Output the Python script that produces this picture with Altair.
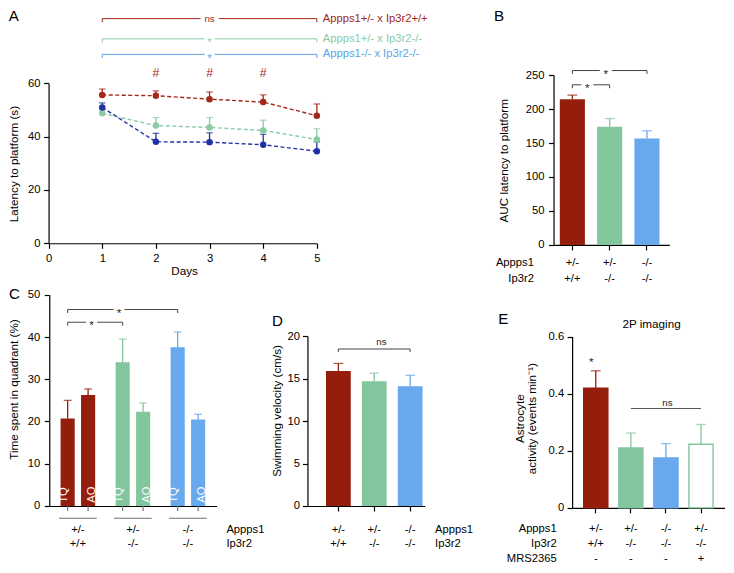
import altair as alt
import pandas as pd

# ---------------- values ----------------
days = [1, 2, 3, 4, 5]
a_series = ["Appps1+/- x Ip3r2+/+", "Appps1+/- x Ip3r2-/-", "Appps1-/- x Ip3r2-/-"]
a_stats = ["ns", "*", "*"]
a_levels = [84.2, 76.6, 70.8]
latency_red = [55.6, 55.3, 54.0, 52.9, 47.8]
latency_red_top = [57.8, 57.1, 56.7, 55.6, 52.2]
latency_green = [48.7, 44.1, 43.4, 42.3, 38.9]
latency_green_top = [50.0, 47.1, 47.1, 46.1, 42.9]
latency_blue = [50.9, 38.0, 37.9, 36.9, 34.5]
latency_blue_top = [52.6, 41.2, 41.4, 40.8, 38.0]
hash_days = [2, 3, 4]
hash_level = 63.9

appps1 = ["+/-", "+/-", "-/-"]
ip3r2 = ["+/+", "-/-", "-/-"]

auc_mean = [214.5, 174.0, 156.5]
auc_top = [220.5, 186.0, 168.0]
b_brackets = [(0, 2, 256.7), (0, 1, 235.7)]

quadrants = ["TQ", "AO"]
tq_mean = [20.7, 34.0, 37.6]
tq_top = [25.0, 39.5, 41.2]
ao_mean = [26.3, 22.3, 20.5]
ao_top = [27.7, 24.4, 21.7]
c_brackets = [(0, 2, 46.5), (0, 1, 43.5)]

velocity_mean = [15.9, 14.7, 14.1]
velocity_top = [16.8, 15.65, 15.4]
d_bracket = (0, 2, 18.5)
d_ns_level = 19.35

e_appps1 = ["+/-", "+/-", "-/-", "+/-"]
e_ip3r2 = ["+/+", "-/-", "-/-", "-/-"]
e_mrs = ["-", "-", "-", "+"]
activity_mean = [0.419, 0.210, 0.175, 0.223]
activity_top = [0.480, 0.262, 0.225, 0.292]
e_ns = (1, 3, 0.348)
e_ns_text = 0.367
e_star = 0.522

# ---------------- styling / layout ----------------
RED_BAR, GREEN_BAR, BLUE_BAR = "#941D0C", "#83C59D", "#68A8EC"
RED_LINE, GREEN_LINE, BLUE_LINE = "#A3281A", "#8ACBA5", "#2032A6"
RED_TXT, GREEN_TXT, BLUE_TXT = "#A3281A", "#8ACBA5", "#5CA3E6"
BR_COL = "#444444"
FONT = "Liberation Sans"

SX, SY, SF = 0.978, 0.972, 0.975


def X(r):
    return (r - 0.5) * SX


def Y(r):
    return (r - 1.0) * SY


W = int(round(X(734)))
H = int(round(Y(573)))
FS_TICK = 11.5 * SF
FS_TITLE = 12 * SF
FS_LETTER = 15.5 * SF
FS_NOTE = 11.5 * SF
FS_NS = 10 * SF
FS_STAR = 12 * SF
AXW = 1.2
TICK = 5

AX = dict(grid=False, domainColor="black", domainWidth=AXW, tickColor="black", tickWidth=AXW,
          labelFont=FONT, labelFontSize=FS_TICK, labelColor="black", labelOverlap=False,
          labelFlush=False, titleFont=FONT, titleFontSize=FS_TITLE, titleFontWeight="normal",
          titleColor="black")


def y_axis(axis_x, values, title, title_x, title_y, fmt="d", line_h=None, pad=3.5):
    kw = dict(AX, orient="left", offset=-X(axis_x), values=values, format=fmt, tickSize=TICK,
              labelPadding=pad, title=title, titleAngle=270, titleAlign="center",
              titleBaseline="middle", titleX=X(title_x) - X(axis_x), titleY=Y(title_y))
    if line_h:
        kw["titleLineHeight"] = line_h
    return alt.Axis(**kw)


def x_band_axis(axis_y, row1_y, row_gap, head, head_x, head_align, ticks=True):
    top = (row1_y - axis_y) * SY - 0.45 * FS_TICK
    tick = TICK if ticks else 0
    return alt.Axis(**dict(AX, orient="bottom", offset=Y(axis_y) - H, ticks=ticks, tickSize=tick,
                           labelExpr="split(datum.label, '|')", labelAngle=0, labelBaseline="top",
                           labelPadding=top - tick, labelLineHeight=row_gap * SY,
                           title=head, titleX=X(head_x), titleY=top, titleAlign=head_align,
                           titleBaseline="top", titleAngle=0, titleLineHeight=row_gap * SY,
                           titleFontSize=FS_TICK))


def note(df, enc, size, color="#222222", dx=0.0, dy=0.0, halo=0):
    layers = []
    if halo:
        henc = {k: v for k, v in enc.items() if k != "color"}
        layers.append(alt.Chart(df).mark_text(font=FONT, fontSize=size, dx=dx, dy=dy, align="center",
                                              baseline="middle", color="white", stroke="white",
                                              strokeWidth=halo, strokeJoin="round").encode(**henc))
    layers.append(alt.Chart(df).mark_text(font=FONT, fontSize=size, dx=dx, dy=dy, align="center",
                                          baseline="middle", color=color).encode(**enc))
    return layers


def bar_layers(df, xenc, xenc0, yfield, ys, yaxis, col, cap, extra=None):
    extra = extra or {}
    return [
        alt.Chart(df).mark_bar().encode(x=xenc, y=alt.Y(f"{yfield}:Q", scale=ys, axis=yaxis), color=col, **extra),
        alt.Chart(df).mark_rule(strokeWidth=1.3).encode(x=xenc0, y=alt.Y(f"{yfield}:Q", scale=ys, axis=None),
                                                        y2="top:Q", color=col, **extra),
        alt.Chart(df).mark_tick(orient="horizontal", size=cap, thickness=1.3).encode(
            x=xenc0, y=alt.Y("top:Q", scale=ys, axis=None), color=col, **extra),
    ]


BAR_COLORS = [RED_BAR, GREEN_BAR, BLUE_BAR]
keys3 = [f"{a}|{b}" for a, b in zip(appps1, ip3r2)]

# ---------------- panel A ----------------
a_rows = []
for s, m, t in [(a_series[1], latency_green, latency_green_top),
                (a_series[2], latency_blue, latency_blue_top),
                (a_series[0], latency_red, latency_red_top)]:
    for d, mv, tv in zip(days, m, t):
        a_rows.append({"series": s, "day": d, "latency": mv, "top": tv})
a_df = pd.DataFrame(a_rows)

a_xs = alt.Scale(domain=[0, 5], range=[X(42), X(316.3)], nice=False, zero=False)
a_ys = alt.Scale(domain=[0, 60], range=[Y(242), Y(77.3)], nice=False, zero=False)
a_ppu = (Y(242) - Y(77.3)) / 60
a_dpu = (X(316.3) - X(42)) / 5
a_line_col = alt.Scale(domain=a_series, range=[RED_LINE, GREEN_LINE, BLUE_LINE])
a_txt_col = alt.Scale(domain=a_series, range=[RED_TXT, GREEN_TXT, BLUE_TXT])

a_xaxis = alt.Axis(**dict(AX, orient="bottom", offset=Y(242) - H, values=[0, 1, 2, 3, 4, 5], format="d",
                          tickSize=TICK, labelPadding=(257 - 242) * SY - 0.45 * FS_TICK - TICK,
                          title="Days", titleX=X(180.5), titleY=(270 - 242) * SY - 0.45 * FS_TITLE,
                          titleAlign="center", titleBaseline="top", titleAngle=0))
a_yaxis = y_axis(42, [0, 20, 40, 60], "Latency to platform (s)", 6, 160)

ax0 = alt.X("day:Q", scale=a_xs, axis=None)
a_lc = alt.Color("series:N", scale=a_line_col, legend=None)
a_tc = alt.Color("series:N", scale=a_txt_col, legend=None)
a_layers = [
    alt.Chart(a_df).mark_line(strokeDash=[4, 2.5], strokeWidth=1.4).encode(
        x=alt.X("day:Q", scale=a_xs, axis=a_xaxis), y=alt.Y("latency:Q", scale=a_ys, axis=a_yaxis), color=a_lc),
    alt.Chart(a_df).mark_rule(strokeWidth=1.3).encode(
        x=ax0, y=alt.Y("latency:Q", scale=a_ys, axis=None), y2="top:Q", color=a_lc),
    alt.Chart(a_df).mark_tick(orient="horizontal", size=6.5, thickness=1.3).encode(
        x=ax0, y=alt.Y("top:Q", scale=a_ys, axis=None), color=a_lc),
    alt.Chart(a_df).mark_point(filled=True, size=42, opacity=1).encode(
        x=ax0, y=alt.Y("latency:Q", scale=a_ys, axis=None), color=a_lc),
]
a_br = pd.DataFrame({"series": a_series, "stat": a_stats, "level": a_levels})
a_br["start"] = min(days)
a_br["end"] = max(days)
a_br["mid"] = (min(days) + max(days)) / 2
a_br["lab"] = max(days) + 6 * SX / a_dpu
a_br["low"] = a_br["level"] - 3.7 * SY / a_ppu
a_ends = pd.concat([a_br.assign(day=min(days)), a_br.assign(day=max(days))])
a_layers += [
    alt.Chart(a_br).mark_rule(strokeWidth=1).encode(
        x=alt.X("start:Q", scale=a_xs, axis=None), x2="end:Q", y=alt.Y("level:Q", scale=a_ys, axis=None), color=a_tc),
    alt.Chart(a_ends).mark_rule(strokeWidth=1).encode(
        x=ax0, y=alt.Y("level:Q", scale=a_ys, axis=None), y2="low:Q", color=a_tc),
    alt.Chart(a_br).mark_text(font=FONT, fontSize=FS_NOTE, align="left", baseline="middle").encode(
        x=alt.X("lab:Q", scale=a_xs, axis=None), y=alt.Y("level:Q", scale=a_ys, axis=None), text="series:N", color=a_tc),
]
a_ns = a_br[a_br["stat"] == "ns"]
a_st = a_br[a_br["stat"] == "*"]
a_enc = dict(x=alt.X("mid:Q", scale=a_xs, axis=None), y=alt.Y("level:Q", scale=a_ys, axis=None),
             text="stat:N", color=a_tc)
a_layers += note(a_ns, a_enc, FS_NS, halo=9)
a_layers += note(a_st, a_enc, FS_STAR, dy=0.275 * FS_STAR, halo=6)
a_hash = pd.DataFrame({"day": hash_days, "level": [hash_level] * len(hash_days), "sym": ["#"] * len(hash_days)})
a_layers.append(alt.Chart(a_hash).mark_text(font=FONT, fontSize=12.5 * SF, color=RED_TXT, baseline="middle").encode(
    x=ax0, y=alt.Y("level:Q", scale=a_ys, axis=None), text="sym:N"))

# ---------------- panel B ----------------
b_df = pd.DataFrame({"geno": keys3, "auc": auc_mean, "top": auc_top})
b_x0, b_x1 = X(558.3), X(676.7)
B_PI, B_PO, B_AL = 0.327, 0.216, 0.39
b_step = (b_x1 - b_x0) / (len(keys3) - B_PI + 2 * B_PO)
b_xs = alt.Scale(domain=keys3, range=[b_x0, b_x1], paddingInner=B_PI, paddingOuter=B_PO, align=B_AL)
b_ys = alt.Scale(domain=[0, 250], range=[Y(243.7), Y(69)], nice=False, zero=False)
b_ppu = (Y(243.7) - Y(69)) / 250
b_col = alt.Color("geno:N", scale=alt.Scale(domain=keys3, range=BAR_COLORS), legend=None)
b_xaxis = x_band_axis(243.7, 261, 16.3, ["Appps1", "Ip3r2"], 537.7, "right")
b_yaxis = y_axis(558.3, [0, 50, 100, 150, 200, 250], "AUC latency to platform", 506.7, 156.7, pad=4.5)
bx0 = alt.X("geno:N", scale=b_xs, axis=None)
b_layers = bar_layers(b_df, alt.X("geno:N", scale=b_xs, axis=b_xaxis), bx0, "auc", b_ys, b_yaxis, b_col, 10 * SX)
b_br = pd.DataFrame({"from": [keys3[i] for i, _, _ in b_brackets], "to": [keys3[j] for _, j, _ in b_brackets],
                     "level": [lv for _, _, lv in b_brackets]})
b_br["low"] = b_br["level"] - 3.5 * SY / b_ppu
b_ends = pd.concat([b_br.assign(geno=b_br["from"]), b_br.assign(geno=b_br["to"])])
b_layers += [
    alt.Chart(b_br).mark_rule(color=BR_COL, strokeWidth=1).encode(
        x=alt.X("from:N", scale=b_xs, axis=None), x2="to:N", y=alt.Y("level:Q", scale=b_ys, axis=None)),
    alt.Chart(b_ends).mark_rule(color=BR_COL, strokeWidth=1).encode(
        x=bx0, y=alt.Y("level:Q", scale=b_ys, axis=None), y2="low:Q"),
]
for i, j, lv in b_brackets:
    d = pd.DataFrame({"geno": [keys3[i]], "level": [lv], "stat": ["*"]})
    b_layers += note(d, dict(x=bx0, y=alt.Y("level:Q", scale=b_ys, axis=None), text="stat:N"),
                     FS_STAR, dx=(j - i) * b_step / 2, dy=0.275 * FS_STAR, halo=8)

# ---------------- panel C ----------------
c_rows = []
for k, tm, tt, am, at in zip(keys3, tq_mean, tq_top, ao_mean, ao_top):
    c_rows.append({"geno": k, "quad": "TQ", "pct": tm, "top": tt})
    c_rows.append({"geno": k, "quad": "AO", "pct": am, "top": at})
c_df = pd.DataFrame(c_rows)
c_x0, c_x1 = X(42.7), X(213.7)
C_PO = 0.02
O_PI, O_PO = 0.31, 0.5
c_step = (c_x1 - c_x0) / (len(keys3) + 2 * C_PO)
o_step = c_step / (2 - O_PI + 2 * O_PO)
tq_off = c_step / 2 - o_step * (O_PO + (1 - O_PI) / 2)
c_xs = alt.Scale(domain=keys3, range=[c_x0, c_x1], paddingInner=0, paddingOuter=C_PO)
c_os = alt.Scale(domain=quadrants, paddingInner=O_PI, paddingOuter=O_PO)
c_ys = alt.Scale(domain=[0, 50], range=[Y(512.3), Y(295)], nice=False, zero=False)
c_ppu = (Y(512.3) - Y(295)) / 50
c_col = alt.Color("geno:N", scale=alt.Scale(domain=keys3, range=BAR_COLORS), legend=None)
c_xaxis = x_band_axis(512.3, 536, 14, ["Appps1", "Ip3r2"], 223.3, "left", ticks=False)
c_yaxis = y_axis(42.7, [0, 10, 20, 30, 40, 50], "Time spent in quadrant (%)", 6, 392, pad=4.5)
cx0 = alt.X("geno:N", scale=c_xs, axis=None)
c_off = alt.XOffset("quad:N", scale=c_os)
c_layers = bar_layers(c_df, alt.X("geno:N", scale=c_xs, axis=c_xaxis), cx0, "pct", c_ys, c_yaxis, c_col,
                      8 * SX, extra={"xOffset": c_off})
c_marks = c_df.assign(base=0.0, tick_lo=-TICK / c_ppu, lab_y=3.2 / c_ppu)
c_under = pd.DataFrame({"geno": keys3, "under": [-(12.7 * SY) / c_ppu] * len(keys3)})
c_layers += [
    alt.Chart(c_marks).mark_rule(color="#777777", strokeWidth=AXW).encode(
        x=cx0, xOffset=c_off, y=alt.Y("base:Q", scale=c_ys, axis=None), y2="tick_lo:Q"),
    alt.Chart(c_under).mark_tick(orient="horizontal", size=38.5 * SX, thickness=1, color="#333333").encode(
        x=cx0, y=alt.Y("under:Q", scale=c_ys, axis=None)),
    alt.Chart(c_marks).mark_text(font=FONT, fontSize=FS_TICK, angle=270, align="left", baseline="middle",
                                 color="white").encode(
        x=cx0, xOffset=c_off, y=alt.Y("lab_y:Q", scale=c_ys, axis=None), text="quad:N"),
]
c_br = pd.DataFrame({"from": [keys3[i] for i, _, _ in c_brackets], "to": [keys3[j] for _, j, _ in c_brackets],
                     "level": [lv for _, _, lv in c_brackets]})
c_br["low"] = c_br["level"] - 3.5 * SY / c_ppu
c_ends = pd.concat([c_br.assign(geno=c_br["from"]), c_br.assign(geno=c_br["to"])]).assign(quad="TQ")
c_layers += [
    alt.Chart(c_br).mark_rule(color=BR_COL, strokeWidth=1, xOffset=-tq_off, x2Offset=-tq_off).encode(
        x=alt.X("from:N", scale=c_xs, axis=None), x2="to:N", y=alt.Y("level:Q", scale=c_ys, axis=None)),
    alt.Chart(c_ends).mark_rule(color=BR_COL, strokeWidth=1).encode(
        x=cx0, xOffset=c_off, y=alt.Y("level:Q", scale=c_ys, axis=None), y2="low:Q"),
]
for i, j, lv in c_brackets:
    d = pd.DataFrame({"geno": [keys3[i]], "quad": ["TQ"], "level": [lv], "stat": ["*"]})
    c_layers += note(d, dict(x=cx0, xOffset=c_off, y=alt.Y("level:Q", scale=c_ys, axis=None), text="stat:N"),
                     FS_STAR, dx=(j - i) * c_step / 2, dy=0.275 * FS_STAR, halo=7)

# ---------------- panel D ----------------
d_df = pd.DataFrame({"geno": keys3, "vel": velocity_mean, "top": velocity_top})
d_xs = alt.Scale(domain=keys3, range=[X(306.7), X(426.7)], paddingInner=0.31, paddingOuter=0.29, align=0.89)
d_ys = alt.Scale(domain=[0, 20], range=[Y(512.3), Y(337.7)], nice=False, zero=False)
d_ppu = (Y(512.3) - Y(337.7)) / 20
d_col = alt.Color("geno:N", scale=alt.Scale(domain=keys3, range=BAR_COLORS), legend=None)
d_xaxis = x_band_axis(512.3, 536, 14, ["Appps1", "Ip3r2"], 436.7, "left")
d_yaxis = y_axis(306.7, [0, 5, 10, 15, 20], "Swimming velocity (cm/s)", 275, 414, pad=3)
dx0 = alt.X("geno:N", scale=d_xs, axis=None)
d_layers = bar_layers(d_df, alt.X("geno:N", scale=d_xs, axis=d_xaxis), dx0, "vel", d_ys, d_yaxis, d_col, 10 * SX)
d_br = pd.DataFrame({"from": [keys3[d_bracket[0]]], "to": [keys3[d_bracket[1]]], "level": [d_bracket[2]]})
d_br["low"] = d_br["level"] - 3 * SY / d_ppu
d_ends = pd.concat([d_br.assign(geno=d_br["from"]), d_br.assign(geno=d_br["to"])])
d_txt = pd.DataFrame({"geno": [keys3[(d_bracket[0] + d_bracket[1]) // 2]], "level": [d_ns_level], "stat": ["ns"]})
d_layers += [
    alt.Chart(d_br).mark_rule(color=BR_COL, strokeWidth=1).encode(
        x=alt.X("from:N", scale=d_xs, axis=None), x2="to:N", y=alt.Y("level:Q", scale=d_ys, axis=None)),
    alt.Chart(d_ends).mark_rule(color=BR_COL, strokeWidth=1).encode(
        x=dx0, y=alt.Y("level:Q", scale=d_ys, axis=None), y2="low:Q"),
]
d_layers += note(d_txt, dict(x=dx0, y=alt.Y("level:Q", scale=d_ys, axis=None), text="stat:N"), FS_NS)

# ---------------- panel E ----------------
e_keys = [f"{a}|{b}|{c}" for a, b, c in zip(e_appps1, e_ip3r2, e_mrs)]
e_df = pd.DataFrame({"geno": e_keys, "act": activity_mean, "top": activity_top})
e_xs = alt.Scale(domain=e_keys, range=[X(577.3), X(733.3)], paddingInner=0.311, paddingOuter=0.33, align=0.5)
e_ys = alt.Scale(domain=[0, 0.6], range=[Y(514.2), Y(338)], nice=False, zero=False)
e_line_cols = [RED_BAR, GREEN_BAR, BLUE_BAR, GREEN_BAR]
e_fill = alt.Fill("geno:N", scale=alt.Scale(domain=e_keys, range=[RED_BAR, GREEN_BAR, BLUE_BAR, "white"]), legend=None)
e_stroke = alt.Stroke("geno:N", scale=alt.Scale(domain=e_keys, range=e_line_cols), legend=None)
e_col = alt.Color("geno:N", scale=alt.Scale(domain=e_keys, range=e_line_cols), legend=None)
e_xaxis = x_band_axis(514.2, 534.3, 15.7, ["Appps1", "Ip3r2", "MRS2365"], 561, "right")
e_yaxis = y_axis(577.3, [0, 0.2, 0.4, 0.6], ["Astrocyte", "activity (events min\u207b\u00b9)"], 524, 422,
                 fmt="~g", line_h=11.7 * SX, pad=3.5)
ex0 = alt.X("geno:N", scale=e_xs, axis=None)
e_layers = [
    alt.Chart(e_df).mark_bar(strokeWidth=1.4).encode(
        x=alt.X("geno:N", scale=e_xs, axis=e_xaxis), y=alt.Y("act:Q", scale=e_ys, axis=e_yaxis),
        fill=e_fill, stroke=e_stroke),
    alt.Chart(e_df).mark_rule(strokeWidth=1.3).encode(
        x=ex0, y=alt.Y("act:Q", scale=e_ys, axis=None), y2="top:Q", color=e_col),
    alt.Chart(e_df).mark_tick(orient="horizontal", size=10 * SX, thickness=1.3).encode(
        x=ex0, y=alt.Y("top:Q", scale=e_ys, axis=None), color=e_col),
]
e_br = pd.DataFrame({"from": [e_keys[e_ns[0]]], "to": [e_keys[e_ns[1]]], "level": [e_ns[2]]})
e_layers.append(alt.Chart(e_br).mark_rule(color="#555555", strokeWidth=1).encode(
    x=alt.X("from:N", scale=e_xs, axis=None), x2="to:N", y=alt.Y("level:Q", scale=e_ys, axis=None)))
e_nsd = pd.DataFrame({"geno": [e_keys[(e_ns[0] + e_ns[1]) // 2]], "level": [e_ns_text], "stat": ["ns"]})
e_layers += note(e_nsd, dict(x=ex0, y=alt.Y("level:Q", scale=e_ys, axis=None), text="stat:N"), FS_NS)
e_std = pd.DataFrame({"geno": [e_keys[0]], "level": [e_star], "stat": ["*"]})
e_layers += note(e_std, dict(x=ex0, y=alt.Y("level:Q", scale=e_ys, axis=None), text="stat:N"), FS_STAR,
                 dy=0.275 * FS_STAR)
e_ttl = pd.DataFrame({"geno": [e_keys[1]], "level": [0.645], "stat": ["2P imaging"]})
e_layers += note(e_ttl, dict(x=ex0, y=alt.Y("level:Q", scale=e_ys, axis=None), text="stat:N"), 12 * SF,
                 color="black", dx=(660 - 637.3) * SX)


# ---------------- panel letters ----------------
def letter(t, xr, yr):
    return alt.Chart(pd.DataFrame({"t": [t]})).mark_text(
        font=FONT, fontSize=FS_LETTER, align="center", baseline="middle", color="black").encode(
        text="t:N", x=alt.value(X(xr)), y=alt.value(Y(yr)))


letters = [letter("A", 6.5, 8), letter("B", 502.5, 8.5), letter("C", 7, 294),
           letter("D", 276, 321.5), letter("E", 507, 320)]

all_layers = a_layers + b_layers + c_layers + d_layers + e_layers + letters
chart = alt.layer(*all_layers).resolve_scale(
    x="independent", y="independent", color="independent", fill="independent", stroke="independent",
    xOffset="independent"
).resolve_axis(x="independent", y="independent").properties(width=W, height=H, padding=0)
chart = chart.configure(font=FONT).configure_view(strokeWidth=0)
chart.save("out.html", embed_options={"renderer": "svg", "actions": False})
